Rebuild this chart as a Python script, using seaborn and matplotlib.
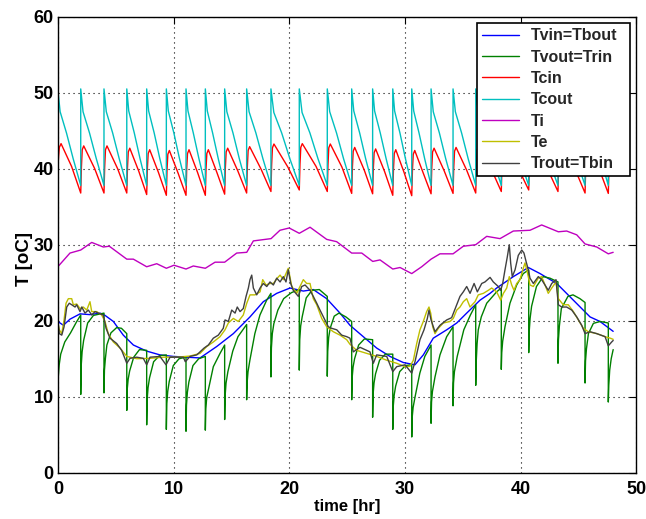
import matplotlib
matplotlib.use("Agg")
import matplotlib.pyplot as plt
import seaborn as sns

# ---------------- data ----------------
t_vin = [0.0, 0.48, 1.05, 1.92, 2.78, 3.65, 4.08, 4.80, 5.66, 6.53, 7.68, 8.83, 9.98, 12.29, 12.58,
         13.73, 15.17, 16.61, 17.76, 18.92, 20.07, 21.22, 22.08, 23.24, 24.39, 25.25, 26.40, 27.56,
         28.71, 29.86, 30.87, 31.59, 32.45, 33.61, 34.48, 35.34, 36.49, 37.36, 37.93, 39.37, 40.67,
         41.68, 43.12, 44.56, 46.00, 46.86, 48.00]
T_vin = [19.9, 19.4, 20.2, 20.9, 20.8, 21.0, 20.7, 19.9, 18.1, 16.8, 16.0, 15.5, 15.3, 15.1, 15.4,
         16.6, 18.3, 20.5, 22.5, 23.6, 24.3, 23.9, 24.1, 22.9, 21.0, 19.4, 17.9, 16.4,
         15.3, 14.5, 14.2, 15.5, 17.7, 18.8, 19.7, 21.0, 22.7, 23.6, 24.3, 25.8, 27.0,
         26.2, 24.9, 22.7, 20.5, 19.9, 18.6]

t_vout = [0.00, 0.04, 0.12, 0.25, 0.60, 1.10, 1.60, 1.98,
          1.98, 2.02, 2.10, 2.23, 2.58, 3.08, 3.99,
          3.99, 4.03, 4.11, 4.24, 4.59, 5.09, 5.50, 5.96,
          5.96, 6.00, 6.08, 6.21, 6.56, 7.06, 7.68,
          7.68, 7.72, 7.80, 7.93, 8.28, 8.78, 9.38,
          9.38, 9.42, 9.50, 9.63, 9.98, 10.48, 11.08,
          11.08, 11.12, 11.20, 11.33, 11.68, 12.18, 12.75,
          12.75, 12.79, 12.87, 13.01, 13.44, 14.02, 14.42,
          14.42, 14.46, 14.54, 14.70, 15.12, 15.57, 16.32,
          16.32, 16.36, 16.44, 16.60, 17.03, 17.47, 18.05, 18.42,
          18.42, 18.46, 18.54, 18.67, 19.02, 19.52, 20.20, 20.87,
          20.87, 20.91, 20.99, 21.12, 21.47, 21.97, 22.60, 23.29,
          23.29, 23.33, 23.41, 23.54, 23.89, 24.30, 24.90, 25.40,
          25.40, 25.44, 25.52, 25.65, 26.00, 26.50, 27.21,
          27.21, 27.25, 27.33, 27.46, 27.81, 28.31, 28.95,
          28.95, 28.99, 29.07, 29.20, 29.55, 30.05, 30.59,
          30.59, 30.63, 30.71, 30.88, 31.29, 31.72, 32.26,
          32.26, 32.30, 32.38, 32.60, 33.03, 33.61, 34.16,
          34.16, 34.20, 34.28, 34.52, 35.09, 35.66, 36.12,
          36.12, 36.16, 36.24, 36.34, 36.60, 37.07, 37.93, 38.33,
          38.33, 38.37, 38.45, 38.65, 39.08, 39.66, 40.23, 40.70,
          40.70, 40.74, 40.82, 40.95, 41.37, 41.95, 42.53, 43.23,
          43.23, 43.27, 43.35, 43.52, 44.09, 44.53, 45.13, 45.57,
          45.57, 45.61, 45.69, 45.86, 46.29, 46.87, 47.58,
          47.58, 47.62, 47.70, 47.83, 48.00]
T_vout = [11.5, 12.6, 14.2, 15.6, 17.2, 18.4, 19.8, 20.75,
          10.3, 14.05, 15.9, 17.4, 19.7, 20.7, 21.0,
          10.5, 13.5, 15.0, 16.8, 18.4, 19.1, 19.0, 18.3,
          8.2, 11.0, 12.3, 13.4, 15.2, 16.2, 16.1,
          6.3, 9.6, 11.2, 12.5, 14.6, 15.4, 15.5,
          5.7, 9.1, 10.7, 12.0, 14.1, 15.0, 15.2,
          5.45, 8.9, 10.6, 11.95, 14.1, 15.0, 15.3,
          5.6, 8.4, 9.9, 10.9, 13.95, 15.7, 16.8,
          7.0, 10.1, 11.8, 13.3, 16.0, 17.9, 19.5,
          9.6, 11.8, 13.3, 14.8, 18.3, 20.75, 22.7, 23.6,
          12.6, 16.4, 18.3, 19.6, 21.4, 22.9, 23.7, 24.1,
          13.5, 17.5, 19.3, 20.5, 23.0, 24.0, 24.1, 23.2,
          12.7, 16.0, 17.8, 19.0, 20.6, 21.0, 20.5, 19.9,
          9.6, 12.5, 13.9, 15.0, 16.8, 17.6, 17.5,
          7.3, 10.3, 11.8, 13.0, 14.8, 15.6, 15.6,
          5.7, 8.7, 10.2, 11.4, 13.3, 14.1, 14.2,
          4.7, 7.3, 8.6, 10.0, 13.1, 15.3, 16.8,
          6.5, 9.3, 10.7, 12.6, 15.5, 17.9, 19.2,
          8.8, 11.8, 13.3, 15.3, 18.8, 20.75, 22.1,
          11.5, 14.5, 17.0, 18.8, 20.5, 22.3, 23.8, 24.3,
          13.6, 15.8, 17.3, 19.2, 22.3, 24.7, 26.2, 26.7,
          15.8, 18.5, 20.3, 21.9, 24.5, 25.8, 25.6, 25.1,
          14.4, 17.5, 19.3, 21.6, 23.2, 23.4, 22.9, 22.4,
          11.8, 14.7, 16.3, 18.3, 19.65, 19.9, 19.7,
          9.3, 11.5, 13.5, 15.0, 16.2]

t_cin = [0.00, 0.06, 0.13, 0.28, 1.19,
         1.98, 2.04, 2.11, 2.24, 3.19,
         3.99, 4.05, 4.12, 4.25, 5.17,
         5.96, 6.02, 6.09, 6.22, 6.99,
         7.68, 7.74, 7.81, 7.94, 8.70,
         9.38, 9.44, 9.51, 9.64, 10.40,
         11.08, 11.14, 11.21, 11.34, 12.08,
         12.75, 12.81, 12.88, 13.01, 13.75,
         14.42, 14.48, 14.55, 14.68, 15.56,
         16.32, 16.38, 16.45, 16.58, 17.58,
         18.42, 18.48, 18.55, 18.68, 19.89,
         20.87, 20.93, 21.00, 21.13, 22.32,
         23.29, 23.35, 23.42, 23.55, 24.56,
         25.40, 25.46, 25.53, 25.66, 26.49,
         27.21, 27.27, 27.34, 27.47, 28.25,
         28.95, 29.01, 29.08, 29.21, 29.93,
         30.59, 30.65, 30.72, 30.85, 31.59,
         32.26, 32.32, 32.39, 32.52, 33.40,
         34.16, 34.22, 34.29, 34.42, 35.34,
         36.12, 36.18, 36.25, 36.38, 37.45,
         38.33, 38.39, 38.46, 38.59, 39.75,
         40.70, 40.76, 40.83, 40.96, 42.22,
         43.23, 43.29, 43.36, 43.49, 44.63,
         45.57, 45.63, 45.70, 45.83, 46.78,
         47.58, 47.64, 47.71, 47.84, 48.00]
T_cin = [39.8, 41.5, 42.8, 43.3, 40.3,
         36.8, 40.2, 42.5, 43.0, 40.0,
         36.8, 40.2, 42.5, 43.0, 40.0,
         36.8, 40.1, 42.2, 42.7, 39.7,
         36.6, 40.0, 42.0, 42.5, 39.5,
         36.5, 39.9, 41.9, 42.4, 39.4,
         36.5, 40.0, 42.0, 42.5, 39.5,
         36.5, 40.0, 42.0, 42.5, 39.5,
         36.65, 40.1, 42.2, 42.7, 39.7,
         36.8, 40.2, 42.4, 42.9, 39.9,
         37.0, 40.5, 42.75, 43.25, 40.2,
         37.2, 40.6, 42.8, 43.3, 40.3,
         37.0, 40.5, 42.75, 43.25, 40.2,
         36.75, 40.1, 42.3, 42.8, 39.8,
         36.7, 40.0, 42.1, 42.6, 39.6,
         36.5, 39.9, 42.0, 42.5, 39.5,
         36.45, 39.8, 41.9, 42.4, 39.4,
         36.7, 40.1, 42.2, 42.7, 39.7,
         36.75, 40.1, 42.3, 42.8, 39.8,
         36.8, 40.3, 42.5, 43.0, 40.0,
         37.0, 40.5, 42.7, 43.2, 40.2,
         37.2, 40.6, 42.8, 43.3, 40.3,
         37.0, 40.5, 42.7, 43.2, 40.2,
         36.8, 40.3, 42.5, 43.0, 40.0,
         36.75, 40.2, 42.4, 42.9, 42.3]

t_cout = [0.00, 0.20, 0.75, 1.33, 1.98,
          1.98, 2.18, 2.74, 3.33, 3.99,
          3.99, 4.19, 4.74, 5.31, 5.96,
          5.96, 6.13, 6.61, 7.11, 7.68,
          7.68, 7.85, 8.33, 8.82, 9.38,
          9.38, 9.55, 10.03, 10.52, 11.08,
          11.08, 11.25, 11.71, 12.20, 12.75,
          12.75, 12.92, 13.38, 13.87, 14.42,
          14.42, 14.61, 15.14, 15.69, 16.32,
          16.32, 16.53, 17.12, 17.73, 18.42,
          18.42, 18.67, 19.35, 20.06, 20.87,
          20.87, 21.11, 21.79, 22.49, 23.29,
          23.29, 23.50, 24.09, 24.70, 25.40,
          25.40, 25.58, 26.09, 26.61, 27.21,
          27.21, 27.38, 27.87, 28.38, 28.95,
          28.95, 29.11, 29.57, 30.05, 30.59,
          30.59, 30.76, 31.22, 31.71, 32.26,
          32.26, 32.45, 32.98, 33.53, 34.16,
          34.16, 34.36, 34.90, 35.47, 36.12,
          36.12, 36.34, 36.96, 37.60, 38.33,
          38.33, 38.57, 39.23, 39.92, 40.70,
          40.70, 40.95, 41.66, 42.40, 43.23,
          43.23, 43.46, 44.12, 44.80, 45.57,
          45.57, 45.77, 46.33, 46.92, 47.58,
          47.58, 47.78, 48.00]
T_cout = [50.4, 47.5, 44.7, 41.3, 37.8,
          50.5, 47.5, 44.7, 41.3, 37.8,
          50.5, 47.5, 44.7, 41.3, 37.8,
          50.5, 47.6, 44.7, 41.3, 37.8,
          50.5, 47.6, 44.7, 41.3, 37.8,
          50.5, 47.6, 44.7, 41.3, 37.8,
          50.5, 47.6, 44.7, 41.3, 37.8,
          50.5, 47.6, 44.7, 41.3, 37.8,
          50.5, 47.5, 44.7, 41.3, 37.8,
          50.5, 47.5, 44.7, 41.3, 37.8,
          50.5, 47.4, 44.7, 41.3, 37.8,
          50.5, 47.4, 44.7, 41.3, 37.8,
          50.5, 47.5, 44.7, 41.3, 37.8,
          50.5, 47.6, 44.7, 41.3, 37.8,
          50.5, 47.6, 44.7, 41.3, 37.8,
          50.5, 47.6, 44.7, 41.3, 37.8,
          50.5, 47.6, 44.7, 41.3, 37.8,
          50.5, 47.5, 44.7, 41.3, 37.8,
          50.5, 47.5, 44.7, 41.3, 37.8,
          50.5, 47.5, 44.7, 41.3, 37.8,
          50.5, 47.5, 44.7, 41.3, 37.8,
          50.5, 47.4, 44.7, 41.3, 37.8,
          50.5, 47.5, 44.7, 41.3, 37.8,
          50.5, 47.5, 44.7, 41.3, 37.8,
          50.5, 47.5, 45.9]

t_ti = [0.0, 1.05, 1.98, 2.93, 3.93, 4.45, 5.96, 6.53, 7.68, 8.55, 9.38, 10.04, 11.08, 11.71,
        12.75, 13.59, 14.42, 15.46, 16.33, 16.90, 18.43, 19.20, 20.00, 20.87, 21.80, 23.24,
        24.10, 25.40, 26.27, 27.22, 27.85, 28.95, 29.58, 30.59, 31.45, 32.26, 33.03, 34.16,
        35.05, 36.12, 37.07, 38.22, 39.37, 40.81, 41.82, 43.26, 43.98, 44.85, 45.57, 46.58,
        47.58, 48.00]
T_ti = [27.1, 28.9, 29.3, 30.3, 29.7, 29.8, 28.1, 28.1, 27.1, 27.5, 26.9, 27.3, 26.8, 27.2,
        26.9, 27.7, 27.7, 28.9, 29.0, 30.5, 30.8, 31.9, 32.2, 31.5, 32.3, 30.7,
        30.4, 28.9, 28.9, 27.8, 28.0, 26.8, 27.0, 26.2, 27.1, 28.1, 28.8, 28.8,
        29.8, 30.0, 31.1, 30.8, 31.8, 31.9, 32.6, 31.7, 31.8, 31.3, 30.1, 29.7,
        28.8, 29.0]

t_te = [0.0, 0.13, 0.34, 0.54, 0.71, 0.91, 1.20, 1.34, 1.63, 1.92,
        2.20, 2.50, 2.78, 2.93, 3.36, 3.79, 4.08, 4.36, 4.80, 5.38,
        5.96, 6.82, 7.97, 9.12, 10.28, 11.43, 12.29, 12.87, 13.44, 14.02,
        14.45, 14.74, 15.17, 15.60, 16.03, 16.33, 16.61, 17.04, 17.48, 17.71,
        17.99, 18.34, 18.63, 18.97, 19.21, 19.49, 19.92, 20.22, 20.65, 20.93,
        21.22, 21.51, 21.80, 22.08, 22.38, 22.81, 23.24, 23.81, 24.39, 24.97,
        25.25, 25.83, 26.70, 27.56, 28.43, 29.29, 30.01, 30.44, 30.73, 31.02,
        31.30, 31.59, 31.88, 32.08, 32.23, 32.40, 32.60, 32.89, 33.32, 33.90,
        34.18, 34.48, 34.76, 35.05, 35.34, 35.63, 36.06, 36.34, 36.78, 37.21,
        37.50, 37.93, 38.28, 38.51, 38.80, 39.02, 39.23, 39.43, 39.66, 39.95,
        40.23, 40.38, 40.58, 40.81, 41.10, 41.53, 41.82, 42.11, 42.39, 42.69,
        43.06, 43.26, 43.69, 44.12, 44.56, 44.99, 45.42, 45.85, 46.58, 47.30,
        47.75, 48.00]
T_te = [19.7, 18.8, 18.3, 20.1, 22.3, 22.9, 22.9, 22.1, 22.2, 21.6,
        21.8, 21.4, 22.5, 21.2, 21.2, 20.75, 19.9, 18.3, 17.2, 16.4,
        15.3, 15.0, 15.05, 15.2, 15.2, 15.35, 15.7, 16.6, 17.2, 17.9,
        18.8, 19.7, 20.3, 19.9, 20.75, 22.3, 23.4, 23.4, 23.8, 25.4,
        24.7, 24.9, 24.9, 25.6, 26.0, 25.4, 26.9, 24.5, 23.6, 24.5,
        25.4, 24.9, 24.9, 22.9, 22.1, 20.3, 19.2, 18.55, 18.1, 17.5,
        16.9, 16.1, 15.7, 15.3, 14.8, 14.4, 13.95, 14.0, 14.8, 17.0,
        18.8, 19.9, 21.2, 21.8, 21.0, 19.2, 18.3, 19.0, 19.7, 19.9,
        20.3, 21.4, 21.8, 22.5, 22.9, 21.8, 22.5, 23.4, 23.6, 24.0,
        24.3, 23.8, 22.7, 23.6, 24.3, 25.8, 24.7, 24.0, 24.9, 25.4,
        26.9, 27.6, 26.4, 24.7, 24.5, 25.6, 25.8, 24.7, 23.6, 24.3,
        25.1, 22.9, 22.1, 22.1, 21.2, 20.1, 19.0, 18.55, 18.3, 17.9,
        17.7, 17.55]

t_rout = [0.0, 0.13, 0.34, 0.54, 0.77, 0.99, 1.20, 1.49, 1.63, 1.92,
          2.07, 2.35, 2.64, 2.93, 3.22, 3.65, 3.93, 4.17, 4.51, 5.09,
          5.52, 5.96, 6.24, 6.82, 7.39, 7.68, 7.97, 8.83, 9.35, 9.70,
          10.85, 11.02, 11.43, 12.01,
          12.29, 12.64, 13.01, 13.44, 13.87, 14.30, 14.45, 14.74, 15.03,
          15.32, 15.51, 15.75, 16.03, 16.27, 16.47, 16.61, 16.76, 16.90, 17.19,
          17.48, 17.76, 18.06, 18.34, 18.63, 18.92, 19.21, 19.49, 19.72, 19.92,
          20.13, 20.35, 20.79, 21.08, 21.37, 21.80, 22.08, 22.38, 22.66, 23.09,
          23.38, 23.67, 24.11, 24.54, 24.97, 25.25,
          25.54, 26.12, 26.98, 27.27, 27.56, 28.43, 28.95, 29.29, 30.01, 30.59,
          30.87, 31.30, 31.65, 31.94, 32.08, 32.26, 32.60, 33.03, 33.61, 34.04,
          34.48, 34.76, 35.05, 35.34, 35.63, 35.98, 36.26, 36.64, 36.92, 37.36,
          37.64, 38.07, 38.28, 38.45, 38.65, 38.85, 39.02, 39.14, 39.28, 39.52,
          39.80, 40.10, 40.29, 40.47, 40.67, 40.81, 41.10, 41.53, 41.82, 42.11,
          42.39, 42.69, 43.06, 43.26, 43.55, 43.98, 44.42, 44.85, 45.28, 45.57,
          46.00, 46.58, 47.30, 47.58, 47.87, 48.00]
T_rout = [20.1, 18.3, 18.1, 19.2, 21.8, 22.3, 22.1, 21.8, 22.1, 21.2,
          21.8, 21.0, 21.4, 20.75, 21.2, 20.9, 20.75, 19.0, 17.7, 17.0,
          16.1, 14.4, 15.05, 15.2, 15.05, 14.2, 15.2, 15.3, 14.2, 15.2,
          15.2, 14.6, 15.3, 15.5,
          15.9, 16.4, 16.8, 17.7, 18.1, 19.0, 20.1, 19.9, 21.4,
          21.0, 21.8, 21.2, 21.6, 23.2, 24.3, 25.4, 26.0, 24.3, 23.4,
          24.3, 24.9, 24.5, 25.1, 24.7, 25.6, 25.1, 25.8, 25.1, 26.7,
          24.9, 24.0, 23.2, 24.5, 24.7, 24.0, 23.2, 22.3, 21.4, 20.1,
          19.2, 19.0, 18.8, 18.1, 17.9, 17.7,
          15.9, 16.5, 15.9, 14.4, 15.5, 15.3, 13.3, 13.95, 14.2, 13.1,
          14.6, 17.5, 18.8, 20.3, 21.4, 20.1, 18.55, 19.4, 20.1, 20.4,
          22.1, 23.2, 23.8, 24.5, 23.6, 24.9, 23.8, 24.9, 25.1, 25.7,
          25.1, 24.5, 24.0, 24.9, 26.7, 28.4, 30.0, 27.6, 25.8, 26.7,
          28.6, 29.3, 28.9, 27.8, 26.7, 25.6, 24.9, 25.8, 25.4, 24.7,
          24.0, 24.9, 25.4, 22.1, 21.8, 21.8, 21.4, 20.5, 19.4, 18.3,
          18.55, 18.3, 17.9, 16.7, 17.2, 17.4]

series_names = ["Tvin=Tbout", "Tvout=Trin", "Tcin", "Tcout", "Ti", "Te", "Trout=Tbin"]
series_colors = ["#0000FF", "#008000", "#FF0000", "#00BFBF", "#BF00BF", "#BFBF00", "#404040"]
x_ticks = [0, 10, 20, 30, 40, 50]
y_ticks = [0, 10, 20, 30, 40, 50, 60]

# ---------------- drawing ----------------
sns.set_theme(style="white")
plt.rcParams['font.family'] = ['Liberation Sans', 'DejaVu Sans']

fig = plt.figure(figsize=(6.46, 5.19), dpi=100)
ax = fig.add_axes([0.0895, 0.0892, 0.8955, 0.8786])

data = [(t_vin, T_vin), (t_vout, T_vout), (t_cin, T_cin), (t_cout, T_cout),
        (t_ti, T_ti), (t_te, T_te), (t_rout, T_rout)]
for (tt, yy), name, col in zip(data, series_names, series_colors):
    sns.lineplot(x=tt, y=yy, ax=ax, color=col, linewidth=1.0, estimator=None,
                 sort=False, label=name)

ax.set_xlim(0, 50)
ax.set_ylim(0, 60)
ax.set_xticks(x_ticks)
ax.set_yticks(y_ticks)
ax.set_xticklabels([str(v) for v in x_ticks], fontsize=13, fontweight='bold')
ax.set_yticklabels([str(v) for v in y_ticks], fontsize=13, fontweight='bold')
ax.tick_params(axis='both', direction='in', length=5, width=0.8, color='black',
               top=True, right=True, labelcolor='black')
ax.tick_params(axis='x', pad=6)
ax.tick_params(axis='y', pad=3)
ax.grid(True, color='black', linestyle=(0, (1, 3.5)), linewidth=0.8)
for sp in ax.spines.values():
    sp.set_color('black')
    sp.set_linewidth(1.0)

ax.set_xlabel('time [hr]', fontsize=12, fontweight='bold', color='black')
ax.set_ylabel('T [oC]', fontsize=13.5, fontweight='bold', color='black')
ax.xaxis.set_label_coords(0.5, -0.075)
ax.xaxis.label.set_va('center')
ax.yaxis.set_label_coords(-0.058, 0.469)
ax.yaxis.label.set_va('center')

leg = ax.legend(loc='upper right', bbox_to_anchor=(0.7252, 0.658, 0.2639, 0.3275),
                mode='expand', frameon=True, fancybox=False,
                edgecolor='black', framealpha=1.0, borderaxespad=0.0,
                handlelength=2.3, handletextpad=0.75, labelspacing=0.4, borderpad=0.3,
                prop={'weight': 'bold', 'size': 11.5})
leg.get_frame().set_linewidth(1.2)
leg.set_zorder(10)

fig.savefig("out.png", dpi=100)
